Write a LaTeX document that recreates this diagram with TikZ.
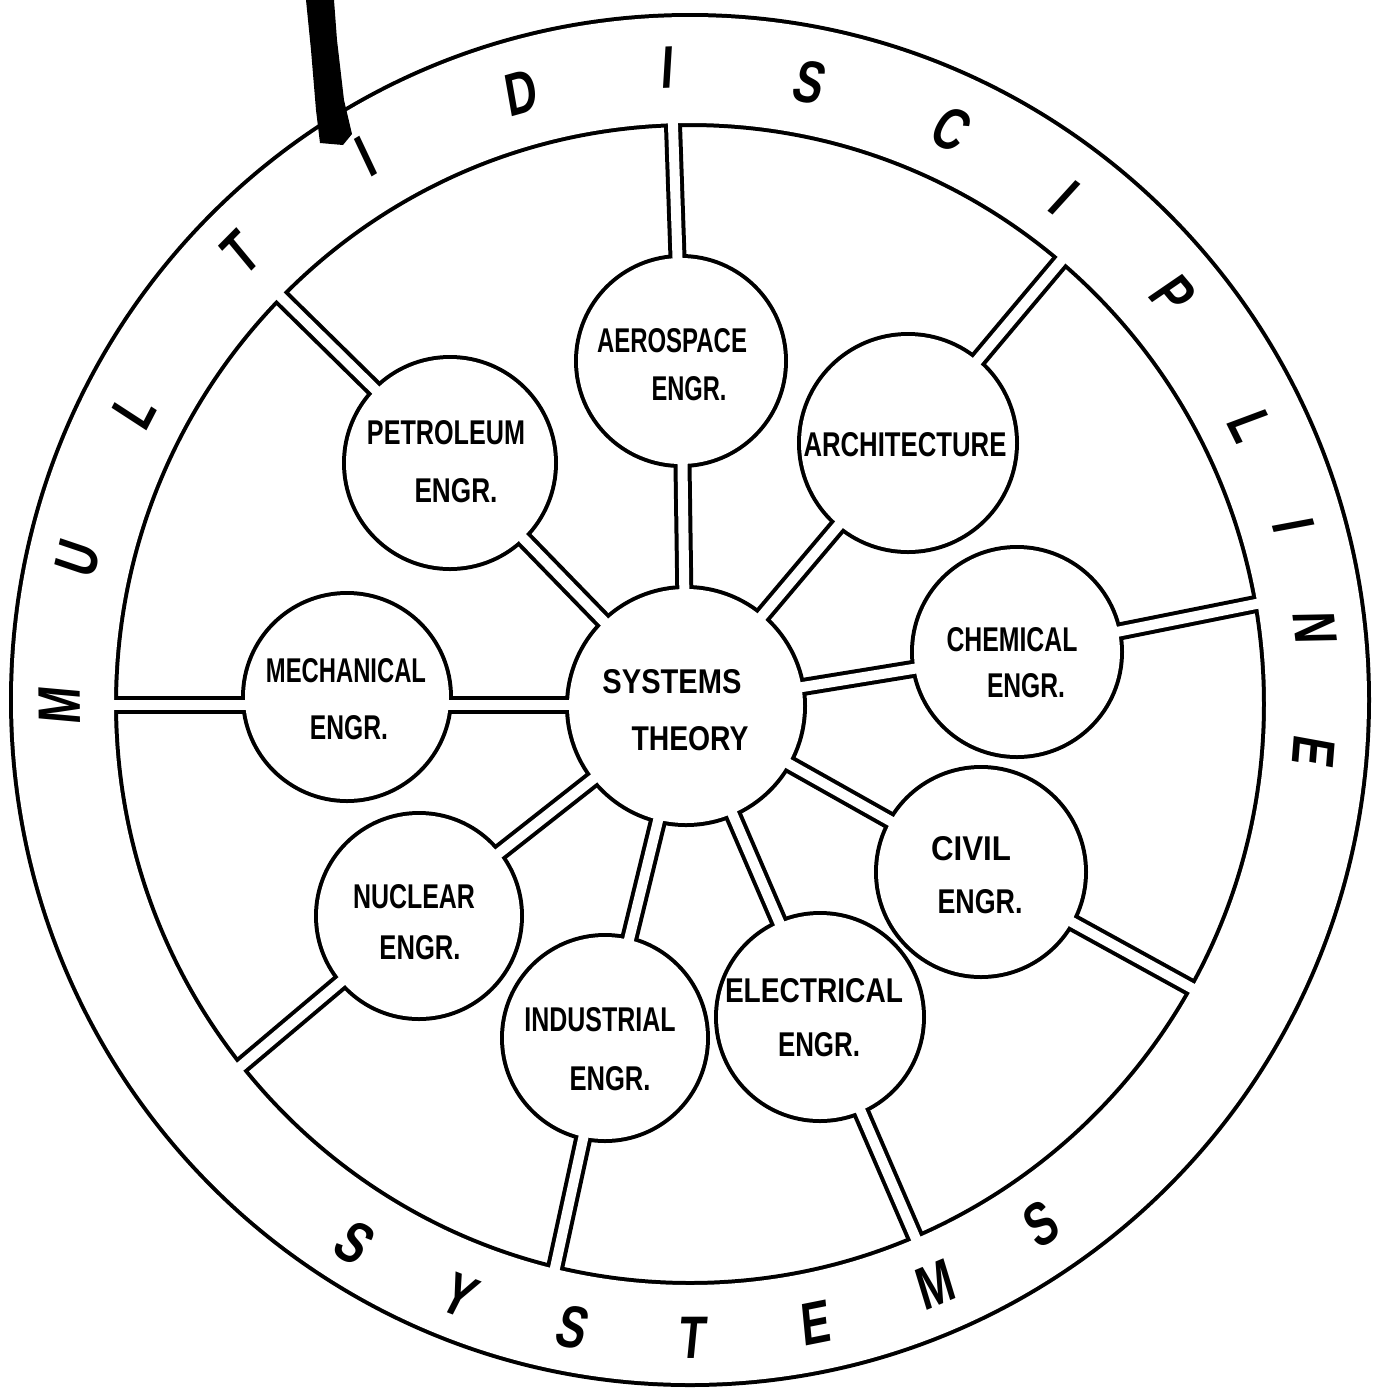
\documentclass[tikz,border=0pt]{standalone}
\usepackage{fontspec}
\usepackage{graphicx}
\usetikzlibrary{calc}
\newfontfamily\lblfont{Liberation Sans}
\newfontfamily\ringfont[FakeSlant=0.1,FakeStretch=0.74]{Liberation Sans}
\begin{document}
\begin{tikzpicture}[x=0.5pt,y=-0.5pt,
  chb/.style={draw=black,line width=9pt,line cap=butt},
  chw/.style={draw=white,line width=5pt,line cap=butt},
  lbl/.style={inner sep=0pt,font=\lblfont\bfseries},
  ringl/.style={inner sep=0pt,font=\ringfont\bfseries\fontsize{30}{30}\selectfont}]
\useasboundingbox (0,0) rectangle (1375,1389);
\fill[white] (0,0) rectangle (1375,1389);

% centres of the circles
\coordinate (c0) at (686,706);
\coordinate (aero) at (681,361);
\coordinate (arch) at (908,443);
\coordinate (chem) at (1017,652);
\coordinate (civil) at (981,872);
\coordinate (elec) at (820,1017);
\coordinate (indus) at (605,1038);
\coordinate (nucl) at (419,916);
\coordinate (mech) at (347,697);
\coordinate (petro) at (450,463);
% channel points
\coordinate (mechA) at (686,705);
\coordinate (mechB) at (347,705);
\coordinate (raero) at (673,125);
\coordinate (rarch) at (1060,262);
\coordinate (rchem) at (1256,604);
\coordinate (rcivil) at (1188,986);
\coordinate (relec) at (913,1232);
\coordinate (rindus) at (555,1268);
\coordinate (rnucl) at (241,1066);
\coordinate (rmech) at (115,705);
\coordinate (rpetro) at (281,297);

\def\discs{aero/105,arch/109,chem/105,civil/105,elec/104,indus/103,nucl/103,mech/104,petro/106,c0/119}
\def\spokes{aero,arch,chem,civil,elec,indus,nucl,petro}

% ---------- black layer ----------
\fill[black,even odd rule] (690,700) ellipse [x radius=681, y radius=687]
      (690,704) ellipse [x radius=572, y radius=577];
\foreach \n/\r in \discs { \fill[black] (\n) circle [radius=\r+2]; }
\foreach \n in {aero,arch,chem,civil,elec,indus,nucl} { \draw[chb] (c0) -- (\n); }
\draw[chb] (c0) -- (petro);
\draw[chb] (mechA) -- (mechB);
\foreach \n in \spokes { \draw[chb] (\n) -- ($(r\n)!-20pt!(\n)$); }
\draw[chb] (mechB) -- ($(rmech)!-20pt!(mechB)$);

% ---------- white layer ----------
\fill[white,even odd rule] (690,700) ellipse [x radius=677, y radius=683]
      (690,704) ellipse [x radius=576, y radius=581];
\foreach \n/\r in \discs { \fill[white] (\n) circle [radius=\r-2]; }
\foreach \n in {aero,arch,chem,civil,elec,indus,nucl} { \draw[chw] (c0) -- (\n); }
\draw[chw] (c0) -- (petro);
\draw[chw] (mechA) -- (mechB);
\foreach \n in \spokes { \draw[chw] (\n) -- ($(r\n)!-20pt!(\n)$); }
\draw[chw] (mechB) -- ($(rmech)!-20pt!(mechB)$);

% ---------- labels ----------
\node[lbl] (t0a) at (672,682) {\resizebox{69.5pt}{12pt}{SYSTEMS}};
\node[lbl] (t0b) at (690,739) {\resizebox{58.5pt}{12pt}{THEORY}};
\node[lbl] (t1a) at (672,341) {\resizebox{75pt}{12pt}{AEROSPACE}};
\node[lbl] (t1b) at (689,389) {\resizebox{37.5pt}{12pt}{ENGR.}};
\node[lbl] (t2a) at (905,445) {\resizebox{101.5pt}{12pt}{ARCHITECTURE}};
\node[lbl] (t3a) at (1012,640) {\resizebox{65.5pt}{12pt}{CHEMICAL}};
\node[lbl] (t3b) at (1026,686) {\resizebox{39pt}{12pt}{ENGR.}};
\node[lbl] (t4a) at (971,849) {\resizebox{40pt}{12pt}{CIVIL}};
\node[lbl] (t4b) at (980,902) {\resizebox{42.5pt}{12pt}{ENGR.}};
\node[lbl] (t5a) at (814,991) {\resizebox{89pt}{12pt}{ELECTRICAL}};
\node[lbl] (t5b) at (819,1045) {\resizebox{41pt}{12pt}{ENGR.}};
\node[lbl] (t6a) at (600,1020) {\resizebox{75.5pt}{12pt}{INDUSTRIAL}};
\node[lbl] (t6b) at (610,1079) {\resizebox{40.5pt}{12pt}{ENGR.}};
\node[lbl] (t7a) at (414,897) {\resizebox{61pt}{12pt}{NUCLEAR}};
\node[lbl] (t7b) at (420,948) {\resizebox{40.5pt}{12pt}{ENGR.}};
\node[lbl] (t8a) at (346,671) {\resizebox{80pt}{12pt}{MECHANICAL}};
\node[lbl] (t8b) at (349,728) {\resizebox{39pt}{12pt}{ENGR.}};
\node[lbl] (t9a) at (446,433) {\resizebox{79pt}{12pt}{PETROLEUM}};
\node[lbl] (t9b) at (456,491) {\resizebox{41.5pt}{12pt}{ENGR.}};

% ---------- ring lettering ----------
\foreach \ch/\x/\y/\a [count=\i] in {M/60/707/90.6, U/77/560/77.1, L/133/412/62.7, T/239/254/45.3,
   I/364/158/31, D/519/93/15.7, I/666/68/2.2, S/808/82/-10.8, C/950/128/-24.4, I/1063/197/-36.6,
   P/1172/294/-49.9, L/1250/425/-63.8, I/1293/524/-73.7, N/1315/626/-83.2, E/1314/750/-94.6}
  { \node[ringl,rotate=\a] (m\i) at (\x,\y) {\ch}; }
\foreach \ch/\x/\y/\a [count=\i] in {S/353/1242/-31.9, Y/458/1295/-21.3, S/571/1327/-10.7, T/691/1338/0.1,
   E/814/1323/11.3, M/934/1285/22.6, S/1039/1225/33.6}
  { \node[ringl,rotate=\a] (s\i) at (\x,\y) {\ch}; }

% ---------- dark mark at top left ----------
\fill[black] (306,0) -- (334,0) -- (337,40) -- (344,100) -- (352,134) -- (343,145)
   -- (320,143) -- (316,110) -- (311,50) -- cycle;
\end{tikzpicture}
\end{document}
